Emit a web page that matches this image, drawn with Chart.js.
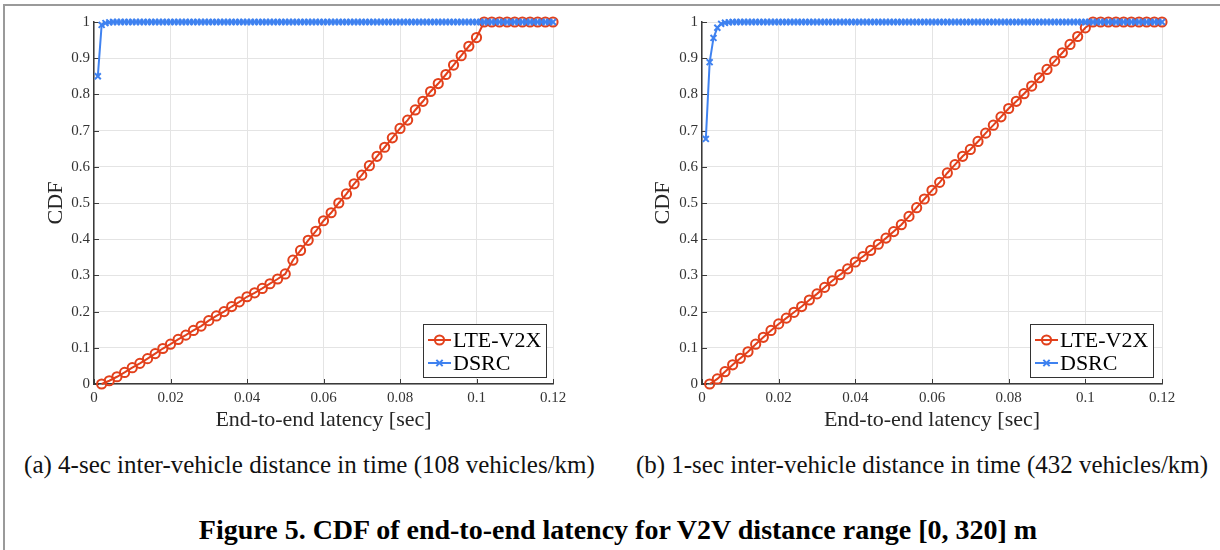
<!DOCTYPE html>
<html>
<head>
<meta charset="utf-8">
<script src="https://cdn.jsdelivr.net/npm/chart.js@4.4.1/dist/chart.umd.min.js"></script>
<style>
  html, body { margin: 0; padding: 0; background: #fff; }
  body { width: 1220px; height: 550px; position: relative; overflow: hidden; font-family: 'Liberation Serif', 'Times New Roman', serif; }
  .frame { position: absolute; left: 3px; top: 4px; width: 1300px; height: 600px; border-top: 2px solid #9a9a9a; border-left: 2px solid #9a9a9a; }
  canvas { position: absolute; top: 0; }
  #c1 { left: 0; }
  #c2 { left: 610px; }
  .cap { position: absolute; font-size: 25px; line-height: 30px; color: #111; white-space: nowrap; text-align: center; }
  .title { position: absolute; font-size: 28px; line-height: 32px; font-weight: bold; color: #000; white-space: nowrap; left: 618px; transform: translateX(-50%); top: 514px; }
</style>
</head>
<body>
<div class="frame"></div>
<canvas id="c1" width="610" height="440"></canvas>
<canvas id="c2" width="610" height="440"></canvas>
<div class="cap" style="left:0; width:619px; top:450px;">(a) 4-sec inter-vehicle distance in time (108 vehicles/km)</div>
<div class="cap" style="left:612px; width:620px; top:450px;">(b) 1-sec inter-vehicle distance in time (432 vehicles/km)</div>
<div class="title">Figure 5. CDF of end-to-end latency for V2V distance range [0, 320] m</div>
<script>
// ---- data ----
const SERIES_NAMES = ['LTE-V2X', 'DSRC'];
const X_TICKS = [0, 0.02, 0.04, 0.06, 0.08, 0.1, 0.12];
const X_TICK_LABELS = ['0', '0.02', '0.04', '0.06', '0.08', '0.1', '0.12'];
const Y_TICKS = [0, 0.1, 0.2, 0.3, 0.4, 0.5, 0.6, 0.7, 0.8, 0.9, 1];
const Y_TICK_LABELS = ['0', '0.1', '0.2', '0.3', '0.4', '0.5', '0.6', '0.7', '0.8', '0.9', '1'];

const LTE_X = [
  0.002,0.004,0.006,0.008,0.010,0.012,0.014,0.016,0.018,0.020,
  0.022,0.024,0.026,0.028,0.030,0.032,0.034,0.036,0.038,0.040,
  0.042,0.044,0.046,0.048,0.050,0.052,0.054,0.056,0.058,0.060,
  0.062,0.064,0.066,0.068,0.070,0.072,0.074,0.076,0.078,0.080,
  0.082,0.084,0.086,0.088,0.090,0.092,0.094,0.096,0.098,0.100,
  0.102,0.104,0.106,0.108,0.110,0.112,0.114,0.116,0.118,0.120
];
const DSRC_X = [
  0.001,0.002,0.003,0.004,0.005,0.006,0.007,0.008,0.009,0.010,
  0.011,0.012,0.013,0.014,0.015,0.016,0.017,0.018,0.019,0.020,
  0.021,0.022,0.023,0.024,0.025,0.026,0.027,0.028,0.029,0.030,
  0.031,0.032,0.033,0.034,0.035,0.036,0.037,0.038,0.039,0.040,
  0.041,0.042,0.043,0.044,0.045,0.046,0.047,0.048,0.049,0.050,
  0.051,0.052,0.053,0.054,0.055,0.056,0.057,0.058,0.059,0.060,
  0.061,0.062,0.063,0.064,0.065,0.066,0.067,0.068,0.069,0.070,
  0.071,0.072,0.073,0.074,0.075,0.076,0.077,0.078,0.079,0.080,
  0.081,0.082,0.083,0.084,0.085,0.086,0.087,0.088,0.089,0.090,
  0.091,0.092,0.093,0.094,0.095,0.096,0.097,0.098,0.099,0.100,
  0.101,0.102,0.103,0.104,0.105,0.106,0.107,0.108,0.109,0.110,
  0.111,0.112,0.113,0.114,0.115,0.116,0.117,0.118,0.119,0.120
];

// (a) 4-sec spacing
const LTE_A = [
  0,0.009,0.020,0.032,0.045,0.057,0.070,0.084,0.098,0.110,
  0.123,0.135,0.148,0.160,0.175,0.188,0.200,0.214,0.227,0.241,
  0.252,0.264,0.277,0.290,0.304,0.342,0.369,0.397,0.422,0.451,
  0.473,0.500,0.525,0.553,0.577,0.603,0.629,0.654,0.680,0.706,
  0.729,0.757,0.781,0.808,0.830,0.855,0.881,0.907,0.933,0.957,
  1,1,1,1,1,1,1,1,1,1
];
const DSRC_A = [
  0.85,0.992,0.997,0.999,1,1,1,1,1,1,
  1,1,1,1,1,1,1,1,1,1,
  1,1,1,1,1,1,1,1,1,1,
  1,1,1,1,1,1,1,1,1,1,
  1,1,1,1,1,1,1,1,1,1,
  1,1,1,1,1,1,1,1,1,1,
  1,1,1,1,1,1,1,1,1,1,
  1,1,1,1,1,1,1,1,1,1,
  1,1,1,1,1,1,1,1,1,1,
  1,1,1,1,1,1,1,1,1,1,
  1,1,1,1,1,1,1,1,1,1,
  1,1,1,1,1,1,1,1,1,1
];

// (b) 1-sec spacing
const LTE_B = [
  0,0.014,0.034,0.053,0.071,0.089,0.110,0.129,0.148,0.166,
  0.182,0.198,0.214,0.232,0.249,0.267,0.285,0.302,0.318,0.337,
  0.352,0.369,0.386,0.403,0.421,0.440,0.463,0.487,0.511,0.535,
  0.557,0.583,0.606,0.629,0.648,0.670,0.693,0.715,0.738,0.761,
  0.781,0.802,0.823,0.846,0.869,0.892,0.915,0.938,0.960,0.984,
  1,1,1,1,1,1,1,1,1,1
];
const DSRC_B = [
  0.677,0.889,0.956,0.984,0.995,0.998,0.999,1,1,1,
  1,1,1,1,1,1,1,1,1,1,
  1,1,1,1,1,1,1,1,1,1,
  1,1,1,1,1,1,1,1,1,1,
  1,1,1,1,1,1,1,1,1,1,
  1,1,1,1,1,1,1,1,1,1,
  1,1,1,1,1,1,1,1,1,1,
  1,1,1,1,1,1,1,1,1,1,
  1,1,1,1,1,1,1,1,1,1,
  1,1,1,1,1,1,1,1,1,1,
  1,1,1,1,1,1,1,1,1,1,
  1,1,1,1,1,1,1,1,1,1
];

// ---- styles ----
const RED = '#e2401b';
const BLUE = '#3f82f0';
const FONT = "'Liberation Serif', 'Times New Roman', serif";
const AXIS_COLOR = '#3a3a3a';
const GRID_COLOR = '#e4e4e4';

function pts(xs, ys) { return xs.map((x, i) => ({ x: x, y: ys[i] })); }

// inward tick marks
const inwardTicks = {
  id: 'inwardTicks',
  beforeDatasetsDraw(chart) {
    const ctx = chart.ctx, a = chart.chartArea;
    const xs = chart.scales.x, ys = chart.scales.y;
    ctx.save();
    ctx.strokeStyle = AXIS_COLOR;
    ctx.lineWidth = 1;
    X_TICKS.forEach(v => {
      const px = Math.round(xs.getPixelForValue(v)) + 0.5;
      ctx.beginPath(); ctx.moveTo(px, a.bottom); ctx.lineTo(px, a.bottom - 5); ctx.stroke();
    });
    Y_TICKS.forEach(v => {
      const py = Math.round(ys.getPixelForValue(v)) + 0.5;
      ctx.beginPath(); ctx.moveTo(a.left, py); ctx.lineTo(a.left + 5, py); ctx.stroke();
    });
    ctx.restore();
  }
};

// legend box inside plot (lower right)
const cornerLegend = {
  id: 'cornerLegend',
  afterDraw(chart, args, opts) {
    const ctx = chart.ctx, a = chart.chartArea;
    const w = 124, h = 54;
    const left = a.right - opts.right - w, top = a.bottom - 6 - h;
    ctx.save();
    ctx.fillStyle = '#fff';
    ctx.fillRect(left, top, w, h);
    ctx.strokeStyle = '#333';
    ctx.lineWidth = 1;
    ctx.strokeRect(left + 0.5, top + 0.5, w - 1, h - 1);
    chart.data.datasets.forEach((ds, i) => {
      const cy = top + 16 + i * 23;
      ctx.strokeStyle = ds.borderColor;
      ctx.lineWidth = 2;
      ctx.beginPath(); ctx.moveTo(left + 5, cy); ctx.lineTo(left + 28, cy); ctx.stroke();
      const mx = left + 16.5;
      ctx.lineWidth = ds.pointBorderWidth;
      if (ds.pointStyle === 'circle') {
        ctx.beginPath(); ctx.arc(mx, cy, ds.pointRadius, 0, Math.PI * 2); ctx.stroke();
      } else {
        const r = ds.pointRadius * 0.75;
        ctx.beginPath();
        ctx.moveTo(mx - r, cy - r); ctx.lineTo(mx + r, cy + r);
        ctx.moveTo(mx - r, cy + r); ctx.lineTo(mx + r, cy - r);
        ctx.stroke();
      }
      ctx.fillStyle = '#000';
      ctx.font = '22px ' + FONT;
      ctx.textBaseline = 'middle';
      ctx.textAlign = 'left';
      ctx.fillText(ds.label, left + 30, cy + 1);
    });
    ctx.restore();
  }
};

function makeChart(id, lte, dsrc, yWidth, yTitlePad, padRight, legendRight) {
  return new Chart(document.getElementById(id), {
    type: 'line',
    data: {
      datasets: [
        {
          label: SERIES_NAMES[0], data: pts(LTE_X, lte),
          borderColor: RED, borderWidth: 2,
          pointStyle: 'circle', pointRadius: 4.6, pointBorderWidth: 2,
          pointBorderColor: RED, pointBackgroundColor: 'rgba(0,0,0,0)',
          order: 1, clip: false, tension: 0
        },
        {
          label: SERIES_NAMES[1], data: pts(DSRC_X, dsrc),
          borderColor: BLUE, borderWidth: 2,
          pointStyle: 'crossRot', pointRadius: 4.2, pointBorderWidth: 2,
          pointBorderColor: BLUE, pointBackgroundColor: BLUE,
          order: 0, clip: false, tension: 0
        }
      ]
    },
    options: {
      responsive: false,
      animation: false,
      devicePixelRatio: 1,
      layout: { padding: { left: 0, right: padRight, top: 22, bottom: 0 } },
      plugins: {
        legend: { display: false },
        tooltip: { enabled: false },
        cornerLegend: { right: legendRight }
      },
      scales: {
        x: {
          type: 'linear', min: 0, max: 0.12,
          afterBuildTicks: s => { s.ticks = X_TICKS.map(v => ({ value: v })); },
          afterFit: s => { s.height = 56; },
          ticks: {
            callback: (v, i) => X_TICK_LABELS[i],
            font: { family: FONT, size: 15 }, color: '#333', padding: 5, maxRotation: 0, autoSkip: false
          },
          grid: { color: GRID_COLOR, lineWidth: 1, drawTicks: false },
          border: { display: true, color: AXIS_COLOR, width: 1.5 },
          title: {
            display: true, text: 'End-to-end latency [sec]',
            font: { family: FONT, size: 22 }, color: '#262626', padding: { top: 0, bottom: 7 }
          }
        },
        y: {
          type: 'linear', min: 0, max: 1,
          afterBuildTicks: s => { s.ticks = Y_TICKS.map(v => ({ value: v })); },
          afterFit: s => { s.width = yWidth; },
          ticks: {
            callback: (v, i) => Y_TICK_LABELS[i],
            font: { family: FONT, size: 15 }, color: '#333', padding: 4, autoSkip: false
          },
          grid: { color: GRID_COLOR, lineWidth: 1, drawTicks: false },
          border: { display: true, color: AXIS_COLOR, width: 1.5 },
          title: {
            display: true, text: 'CDF',
            font: { family: FONT, size: 22 }, color: '#262626', padding: { top: yTitlePad, bottom: 0 }
          }
        }
      }
    },
    plugins: [inwardTicks, cornerLegend]
  });
}

makeChart('c1', LTE_A, DSRC_A, 94, 43, 57, 6);
makeChart('c2', LTE_B, DSRC_B, 92, 40, 58, 8);
</script>
</body>
</html>
